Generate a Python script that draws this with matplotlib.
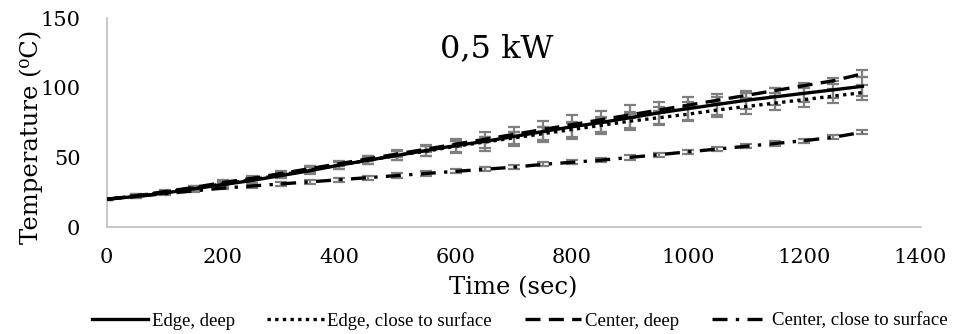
import matplotlib
matplotlib.use("Agg")
import matplotlib.pyplot as plt
import numpy as np

time = [0, 50, 100, 150, 200, 250, 300, 350, 400, 450, 500, 550, 600, 650,
        700, 750, 800, 850, 900, 950, 1000, 1050, 1100, 1150, 1200, 1250, 1300]

edge_deep = [20, 22, 24.5, 27.5, 30.5, 33.5, 37, 40.5, 44.5, 48, 51.5, 55, 58.5, 61.5,
             65, 68.5, 72, 75, 78.5, 82, 85, 88, 91, 93.5, 96, 98.5, 101]
edge_deep_err = [0.5, 1, 1, 1.5, 1.5, 2, 2, 2.5, 3, 3, 3.5, 4, 5, 7,
                 6.5, 7.5, 8.5, 8, 9, 8, 8, 7.5, 6.5, 6, 6.5, 6, 7]

edge_surf = [20, 22.5, 25, 28, 31, 34, 37.5, 41, 44.5, 48, 51.5, 54.5, 58, 61,
             64, 67, 70, 73, 76, 78.5, 81, 84, 86.5, 89, 91.5, 94, 96.5]
edge_surf_err = [0.5, 1, 1, 1.5, 1.5, 2, 2, 2.5, 2.5, 3, 3, 3.5, 4, 4,
                 4.5, 4.5, 5, 5, 5, 5, 5, 5, 5, 5, 5, 5, 5.5]

center_deep = [20, 22.5, 25.5, 28.5, 32, 35, 38.5, 42, 45.5, 49, 52.5, 56, 59.5, 63,
               66.5, 70, 73.5, 77, 80.5, 84, 87.5, 91, 94.5, 98, 101.5, 105, 110]
center_deep_err = [0.5, 1, 1, 1, 1.5, 1.5, 1.5, 1.5, 1.5, 1.5, 2, 2, 2, 2,
                   2, 2, 2, 2, 2, 2, 2, 2, 2, 2, 2, 2, 2.5]

center_surf = [20, 22, 24, 26, 28, 29.5, 31, 32.5, 34, 35.5, 37, 38.5, 40, 41.5,
               43, 45, 46.5, 48, 50, 52, 54, 56, 58, 60, 62, 64.5, 68]
center_surf_err = [0.5, 1, 1, 1, 1, 1.5, 1.5, 1.5, 1.5, 1.5, 1.5, 1.5, 1.5, 1.5,
                   1.5, 1.5, 1.5, 1.5, 1.5, 1.5, 1.5, 1.5, 1.5, 1.5, 1.5, 1.5, 1.5]

labels = ["Edge, deep", "Edge, close to surface", "Center, deep", "Center, close to surface"]
xticks = [0, 200, 400, 600, 800, 1000, 1200, 1400]
yticks = [0, 50, 100, 150]

fig = plt.figure(figsize=(9.71, 3.34), dpi=100)
ax = fig.add_axes([0.110, 0.32, 0.838, 0.626])

series = [
    (edge_deep, edge_deep_err, dict(linestyle="-", linewidth=2.4)),
    (edge_surf, edge_surf_err, dict(linestyle=(0, (1, 1.3)), linewidth=2.4)),
    (center_deep, center_deep_err, dict(linestyle=(0, (4.5, 2.5)), linewidth=2.4)),
    (center_surf, center_surf_err, dict(linestyle=(0, (4.5, 2.5, 1, 2.5)), linewidth=2.4)),
]
handles = []
for (vals, err, st), lab in zip(series, labels):
    ax.errorbar(time, vals, yerr=err, fmt="none", ecolor="#7f7f7f",
                elinewidth=1.6, capsize=4, capthick=1.6, zorder=2)
    h, = ax.plot(time, vals, color="black", zorder=3, label=lab, **st)
    handles.append(h)

ax.set_xlim(0, 1400)
ax.set_ylim(0, 150)
ax.set_xticks(xticks)
ax.set_yticks(yticks)
ax.tick_params(length=0, labelsize=15)
ax.tick_params(axis="x", pad=15)
ax.tick_params(axis="y", pad=19)
for lbl in ax.get_xticklabels() + ax.get_yticklabels():
    lbl.set_family("DejaVu Serif")
for s in ["top", "right"]:
    ax.spines[s].set_visible(False)
for s in ["left", "bottom"]:
    ax.spines[s].set_color("#bfbfbf")
    ax.spines[s].set_linewidth(1.2)

ax.set_xlabel("Time (sec)", fontsize=17.5, family="DejaVu Serif", labelpad=7)
ax.set_ylabel("Temperature (\u2070C)", fontsize=17.5, family="DejaVu Serif")
ax.yaxis.set_label_coords(-0.079, 0.43)
ax.text(0.41, 0.856, "0,5 kW", transform=ax.transAxes, fontsize=23,
        family="DejaVu Serif", ha="left", va="center")

fig.legend(handles=handles, labels=labels, loc="center", ncol=4,
           bbox_to_anchor=(0.535, 0.040), frameon=False,
           prop={"family": "Liberation Serif", "size": 13.5},
           handlelength=3.0, columnspacing=1.75, handletextpad=0.2,
           borderaxespad=0)

fig.savefig("out.png", dpi=100)
